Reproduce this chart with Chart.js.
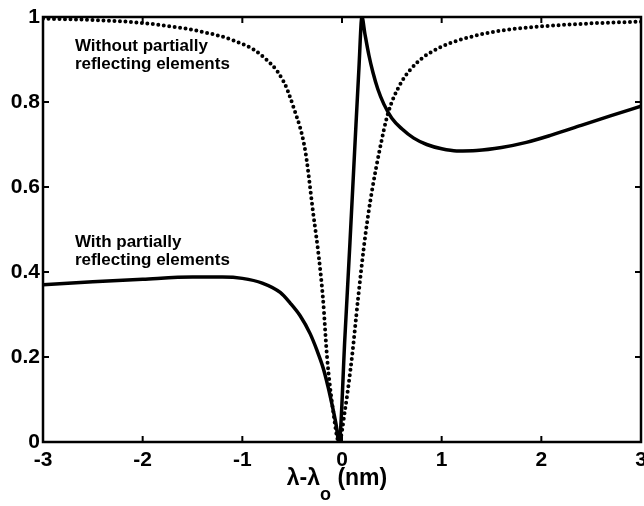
<!DOCTYPE html>
<html>
<head>
<meta charset="utf-8">
<script src="https://cdn.jsdelivr.net/npm/chart.js@4.4.0/dist/chart.umd.min.js"></script>
<style>
  html, body { margin: 0; padding: 0; background: #fff; }
</style>
</head>
<body>
<canvas id="chart" width="644" height="506"></canvas>
<script>
// solid curve: with partially reflecting elements
const withX = [-3, -2.5, -2, -1.5, -1.2, -1, -0.8, -0.62, -0.52, -0.42, -0.32, -0.25, -0.19, -0.14, -0.1, -0.06, -0.03,
  0.03, 0.08, 0.13, 0.17, 0.2, 0.23, 0.27, 0.31, 0.36, 0.42, 0.5, 0.6, 0.72, 0.85, 1.0, 1.15, 1.35, 1.6, 1.85, 2.1, 2.4, 2.7, 3];
const withY = [0.37, 0.377, 0.383, 0.388, 0.388, 0.385, 0.374, 0.352, 0.327, 0.297, 0.255, 0.215, 0.175, 0.13, 0.088, 0.042, 0,
  0.25, 0.47, 0.7, 0.88, 1.0, 0.96, 0.91, 0.87, 0.83, 0.795, 0.762, 0.737, 0.715, 0.7, 0.69, 0.685, 0.686, 0.693, 0.705, 0.722, 0.745, 0.768, 0.79];

// dotted curve: without partially reflecting elements
const withoutX = [-3, -2.5, -2.1, -1.75, -1.42, -1.09, -0.82, -0.59, -0.49, -0.37, -0.29, -0.23, -0.19, -0.15, -0.09, -0.03,
  0.03, 0.1, 0.16, 0.22, 0.26, 0.3, 0.38, 0.46, 0.58, 0.75, 0.98, 1.32, 1.6, 1.95, 2.5, 3];
const withoutY = [0.996, 0.993, 0.988, 0.979, 0.966, 0.945, 0.912, 0.85, 0.79, 0.687, 0.54, 0.43, 0.335, 0.2, 0.075, 0,
  0.075, 0.2, 0.335, 0.46, 0.53, 0.59, 0.69, 0.772, 0.84, 0.892, 0.928, 0.955, 0.968, 0.977, 0.985, 0.989];

const xTicks = [-3, -2, -1, 0, 1, 2, 3];
const xTickLabels = ['-3', '-2', '-1', '0', '1', '2', '3'];
const yTicks = [0, 0.2, 0.4, 0.6, 0.8, 1];
const yTickLabels = ['0', '0.2', '0.4', '0.6', '0.8', '1'];

const notes = [
  { lines: ['Without partially', 'reflecting elements'], x: -2.68, y: 0.92 },
  { lines: ['With partially', 'reflecting elements'], x: -2.68, y: 0.459 }
];

const toPoints = (xs, ys) => xs.map((x, i) => ({ x: x, y: ys[i] }));

/**
 * Box, inward ticks, curve labels and the x axis title
 */
const framePlugin = {
  id: 'frame',
  afterDatasetsDraw(chart) {
    const { ctx, chartArea: a, scales: { x, y } } = chart;
    ctx.save();
    ctx.strokeStyle = '#000';
    ctx.fillStyle = '#000';

    // inward ticks on all four sides
    ctx.lineWidth = 2;
    ctx.beginPath();
    xTicks.forEach(v => {
      const px = x.getPixelForValue(v);
      ctx.moveTo(px, a.bottom); ctx.lineTo(px, a.bottom - 6);
      ctx.moveTo(px, a.top); ctx.lineTo(px, a.top + 6);
    });
    yTicks.forEach(v => {
      const py = y.getPixelForValue(v);
      ctx.moveTo(a.left, py); ctx.lineTo(a.left + 6, py);
      ctx.moveTo(a.right, py); ctx.lineTo(a.right - 6, py);
    });
    ctx.stroke();

    ctx.lineWidth = 2.5;
    ctx.strokeRect(a.left, a.top, a.right - a.left, a.bottom - a.top);

    // curve labels
    ctx.font = 'bold 17px Arial, "Liberation Sans", sans-serif';
    ctx.textBaseline = 'alphabetic';
    ctx.textAlign = 'left';
    notes.forEach(n => {
      const px = x.getPixelForValue(n.x);
      const py = y.getPixelForValue(n.y);
      n.lines.forEach((line, i) => ctx.fillText(line, px, py + i * 18));
    });

    // x axis title with subscript
    const mainFont = 'bold 23px Arial, "Liberation Sans", sans-serif';
    const subFont = 'bold 18px Arial, "Liberation Sans", sans-serif';
    ctx.font = mainFont;
    const w1 = ctx.measureText('λ-λ').width;
    const w3 = ctx.measureText(' (nm)').width;
    ctx.font = subFont;
    const w2 = ctx.measureText('o').width;
    const base = 485;
    let cx = (a.left + a.right) / 2 - 5 - (w1 + w2 + w3) / 2;
    ctx.font = mainFont;
    ctx.fillText('λ-λ', cx, base);
    cx += w1;
    ctx.font = subFont;
    ctx.fillText('o', cx, base + 15);
    cx += w2;
    ctx.font = mainFont;
    ctx.fillText(' (nm)', cx, base);
    ctx.restore();
  }
};

const tickFont = { family: 'Arial, "Liberation Sans", sans-serif', size: 21, weight: 'bold' };

new Chart(document.getElementById('chart').getContext('2d'), {
  type: 'line',
  data: {
    datasets: [
      {
        label: 'With partially reflecting elements',
        data: toPoints(withX, withY),
        borderColor: '#000',
        borderWidth: 3.5,
        pointRadius: 0,
        fill: false,
        cubicInterpolationMode: 'monotone'
      },
      {
        label: 'Without partially reflecting elements',
        data: toPoints(withoutX, withoutY),
        borderColor: '#000',
        borderWidth: 4,
        borderDash: [0, 5.5],
        borderCapStyle: 'round',
        pointRadius: 0,
        fill: false,
        cubicInterpolationMode: 'monotone'
      }
    ]
  },
  options: {
    responsive: false,
    animation: false,
    layout: { padding: { top: 17, right: 3, left: 0, bottom: 0 } },
    plugins: {
      legend: { display: false },
      tooltip: { enabled: false }
    },
    scales: {
      x: {
        type: 'linear',
        min: -3,
        max: 3,
        grid: { display: false, drawTicks: false },
        border: { display: false },
        afterBuildTicks: s => { s.ticks = xTicks.map(v => ({ value: v })); },
        ticks: {
          color: '#000',
          font: tickFont,
          padding: 6,
          maxRotation: 0,
          autoSkip: false,
          callback: (v, i) => xTickLabels[i]
        },
        afterFit: s => { s.height = 64; s.paddingLeft = 0; s.paddingRight = 0; }
      },
      y: {
        type: 'linear',
        min: 0,
        max: 1,
        grid: { display: false, drawTicks: false },
        border: { display: false },
        afterBuildTicks: s => { s.ticks = yTicks.map(v => ({ value: v })); },
        ticks: {
          color: '#000',
          font: tickFont,
          padding: 3,
          autoSkip: false,
          callback: (v, i) => yTickLabels[i]
        },
        afterFit: s => { s.width = 43; s.paddingTop = 0; s.paddingBottom = 0; }
      }
    }
  },
  plugins: [framePlugin]
});
</script>
</body>
</html>
